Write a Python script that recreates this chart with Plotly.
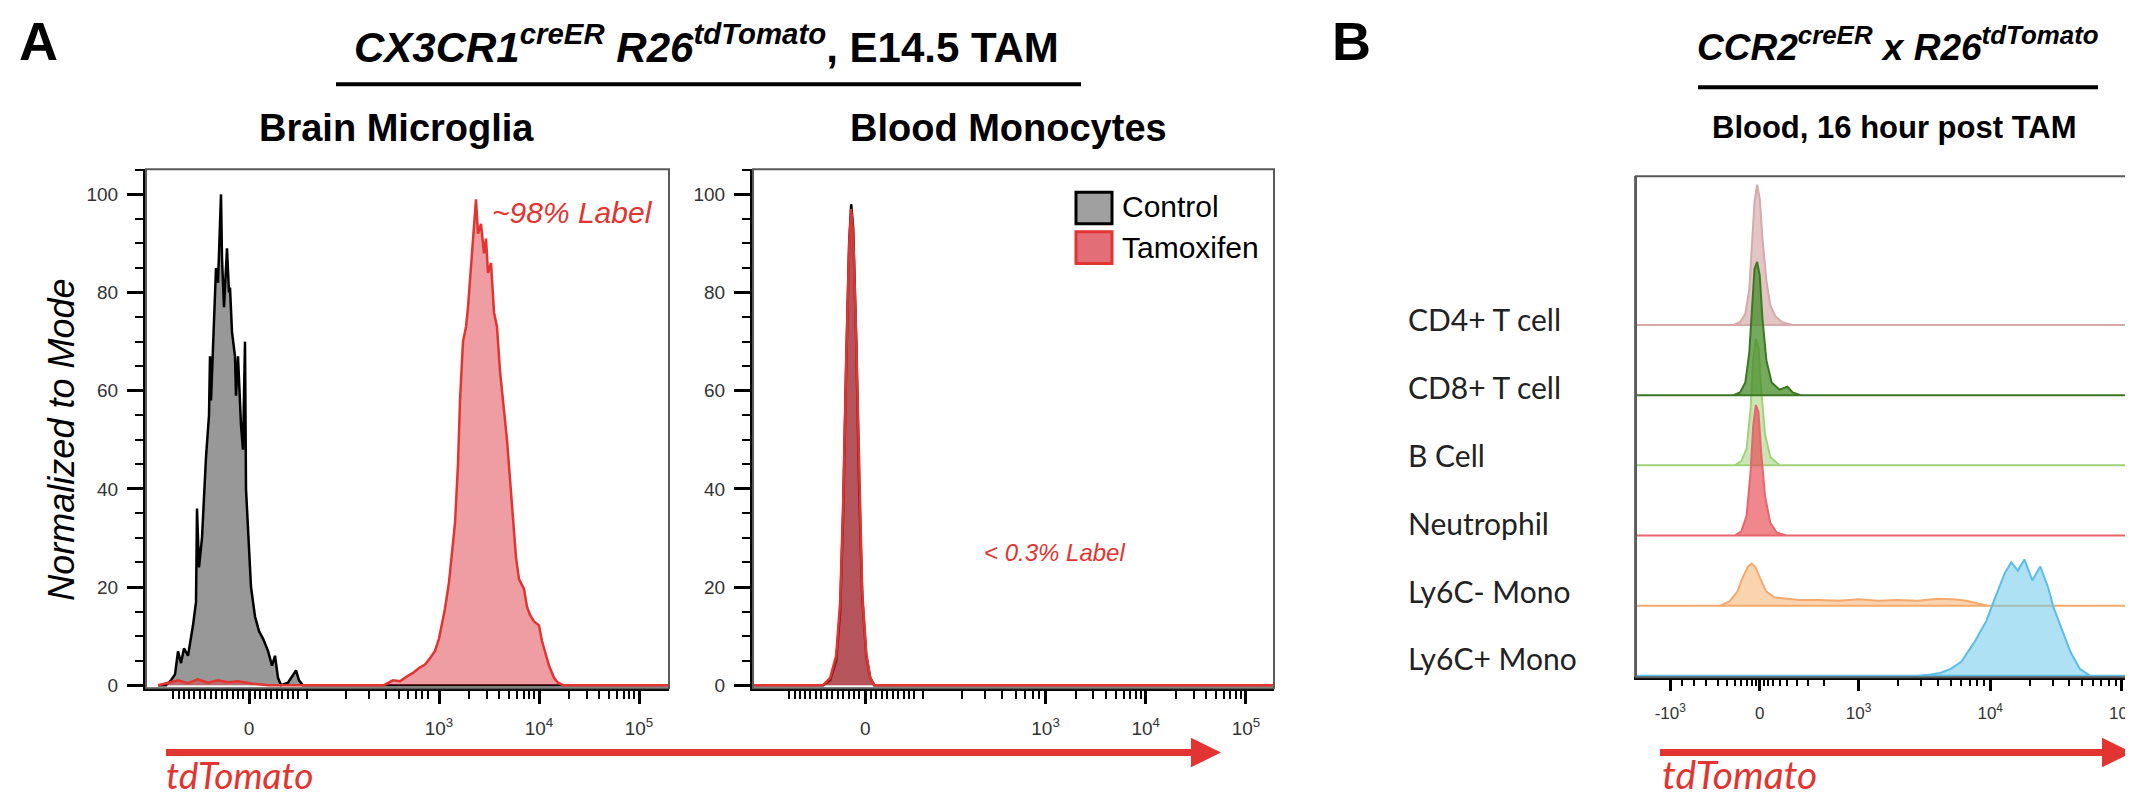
import math
import plotly.graph_objects as go

W, H = 2133, 801

# ---------------- DATA ----------------
# Panel A x positions are logicle display units (0 -> 1.1 / 1.2, 10^3 -> 3, 10^4 -> 4, 10^5 -> 5)
microglia_ctrl_x = [0.19, 0.27, 0.32, 0.36, 0.39, 0.42, 0.45, 0.49, 0.54, 0.57, 0.58, 0.60, 0.63, 0.67, 0.70,
                    0.71, 0.72, 0.75, 0.77, 0.79, 0.82, 0.83, 0.85, 0.88, 0.90, 0.91, 0.93, 0.96, 0.97, 0.99,
                    1.02, 1.04, 1.06, 1.07, 1.09, 1.12, 1.16, 1.20, 1.24, 1.29, 1.33, 1.36, 1.39, 1.42, 1.49,
                    1.54, 1.57, 1.60, 1.64, 5.30]
microglia_ctrl_y = [0, 0, 1.0, 2.2, 6.9, 4.5, 7.5, 6.0, 12.2, 16.9, 36, 24, 30, 46.5, 55,
                    67, 58, 75, 85, 82, 100, 87, 77, 89, 80, 81, 72, 67, 59, 67,
                    53, 48, 70, 40, 31, 20, 14, 11, 9.5, 7, 4, 6, 1.5, 0, 0.5,
                    2, 3, 1, 0, 0]

microglia_tam_x = [0.19, 0.29, 0.39, 0.49, 0.59, 0.69, 0.79, 0.89, 0.99, 1.14, 1.29, 2.39, 2.45, 2.54, 2.61,
                   2.68, 2.74, 2.80, 2.86, 2.91, 2.96, 3.00, 3.06, 3.10, 3.13, 3.16, 3.19, 3.21, 3.24, 3.27,
                   3.29, 3.32, 3.34, 3.37, 3.39, 3.42, 3.45, 3.47, 3.49, 3.52, 3.55, 3.58, 3.61, 3.64, 3.68,
                   3.71, 3.74, 3.77, 3.80, 3.85, 3.88, 3.91, 3.95, 4.00, 4.03, 4.06, 4.10, 4.15, 4.19, 4.24,
                   5.30]
microglia_tam_y = [0, 0.5, 1.0, 0.4, 1.2, 0.5, 1.0, 0.6, 0.8, 0.3, 0, 0, 0, 1.0, 0.8,
                   1.8, 2.5, 3.5, 4.2, 5.5, 7, 9.5, 15.6, 21, 27, 33, 45, 58, 70, 73,
                   77, 85, 91, 99, 92, 94, 88, 91, 84, 86, 76, 73, 64, 58, 50,
                   42, 33, 26, 21.6, 19.6, 16, 14.3, 13, 12.2, 9, 6.8, 4, 1.5, 0.5, 0,
                   0]

monocyte_ctrl_x = [0.08, 0.78, 0.85, 0.91, 0.95, 0.98, 1.01, 1.04, 1.06, 1.08, 1.11, 1.14, 1.17, 1.21, 1.25, 1.29, 5.28]
monocyte_ctrl_y = [0, 0, 1, 5, 15, 35, 65, 90, 98, 93, 70, 40, 18, 6, 1.5, 0, 0]
monocyte_tam_x = [0.08, 0.78, 0.85, 0.91, 0.95, 0.98, 1.01, 1.04, 1.06, 1.08, 1.11, 1.14, 1.17, 1.21, 1.25, 1.29, 5.28]
monocyte_tam_y = [0, 0, 1.5, 6, 17, 37, 66, 90, 97, 92, 71, 42, 19, 6.5, 1.5, 0, 0]

# Panel B: stacked histograms (display units: 0 -> 2.25, 10^3 -> 3, 10^4 -> 4, 10^5 -> 5)
b_rows = ["CD4+ T cell", "CD8+ T cell", "B Cell", "Neutrophil", "Ly6C- Mono", "Ly6C+ Mono"]
b_offsets = [250, 200, 150, 100, 50, 0]

cd4_x = [1.31, 2.05, 2.10, 2.14, 2.17, 2.19, 2.21, 2.23, 2.25, 2.27, 2.30, 2.33, 2.37, 2.42, 2.50, 5.13]
cd4_y = [0, 0, 2, 8, 25, 55, 88, 100, 90, 62, 32, 14, 6, 2, 0, 0]
cd8_x = [1.31, 2.05, 2.10, 2.14, 2.17, 2.19, 2.21, 2.23, 2.25, 2.27, 2.30, 2.34, 2.40, 2.46, 2.50, 2.56, 5.13]
cd8_y = [0, 0, 2, 9, 30, 62, 90, 95, 85, 55, 25, 9, 4, 6, 2, 0, 0]
bcell_x = [1.31, 2.06, 2.11, 2.15, 2.18, 2.20, 2.22, 2.24, 2.26, 2.29, 2.33, 2.40, 5.13]
bcell_y = [0, 0, 3, 12, 40, 75, 90, 84, 55, 22, 6, 0, 0]
neut_x = [1.31, 2.06, 2.11, 2.15, 2.18, 2.20, 2.22, 2.24, 2.26, 2.29, 2.33, 2.38, 2.45, 5.13]
neut_y = [0, 0, 3, 14, 45, 78, 93, 88, 60, 28, 9, 2, 0, 0]
ly6cneg_x = [1.31, 1.95, 2.02, 2.08, 2.12, 2.16, 2.19, 2.22, 2.26, 2.30, 2.36, 2.45, 2.55, 2.70, 2.85,
             3.00, 3.15, 3.30, 3.45, 3.60, 3.72, 3.82, 3.90, 3.98, 5.13]
ly6cneg_y = [0, 0, 3, 10, 20, 28, 30, 27, 18, 10, 6, 5, 4, 4, 3.5,
             4.5, 3.5, 4, 3.5, 5, 4.5, 3.5, 2, 0, 0]
ly6cpos_x = [1.31, 3.45, 3.55, 3.62, 3.70, 3.78, 3.88, 3.97, 4.03, 4.11, 4.16, 4.21, 4.26, 4.32, 4.38,
             4.44, 4.48, 4.54, 4.61, 4.68, 4.76, 5.13]
ly6cpos_y = [0, 0, 1, 2, 5, 10, 24, 39, 54, 73, 81, 75, 83, 68, 78,
             63, 49, 34, 17, 5, 0, 0]

# tick labels
a_tick_text = ["0", "10<sup>3</sup>", "10<sup>4</sup>", "10<sup>5</sup>"]
b_tick_text = ["-10<sup>3</sup>", "0", "10<sup>3</sup>", "10<sup>4</sup>", "10<sup>5</sup>"]
y_tick_vals = [0, 20, 40, 60, 80, 100]

# ---------------- helpers ----------------
def fx(px):
    return px / W

def fy(py):
    return 1 - py / H

def log_minors():
    out = []
    for d in (3, 4):
        for k in range(2, 10):
            out.append(d + math.log10(k))
    return out

ARIAL = "Liberation Sans, Arial, sans-serif"
CALI = "Lato, Open Sans, sans-serif"
RED = "rgb(226,52,48)"

fig = go.Figure()

fig.add_trace(go.Scatter(x=microglia_ctrl_x, y=microglia_ctrl_y, mode="lines", fill="tozeroy",
                         fillcolor="rgb(152,152,152)", line=dict(color="black", width=2.5),
                         xaxis="x", yaxis="y", showlegend=False))
fig.add_trace(go.Scatter(x=microglia_tam_x, y=microglia_tam_y, mode="lines", fill="tozeroy",
                         fillcolor="rgba(222,60,70,0.5)", line=dict(color=RED, width=2.5),
                         xaxis="x", yaxis="y", showlegend=False))
fig.add_trace(go.Scatter(x=monocyte_ctrl_x, y=monocyte_ctrl_y, mode="lines", fill="tozeroy",
                         fillcolor="rgb(152,152,152)", line=dict(color="black", width=2.5),
                         xaxis="x2", yaxis="y2", showlegend=False))
fig.add_trace(go.Scatter(x=monocyte_tam_x, y=monocyte_tam_y, mode="lines", fill="tozeroy",
                         fillcolor="rgba(200,40,50,0.6)", line=dict(color=RED, width=2.5),
                         xaxis="x2", yaxis="y2", showlegend=False))

b_data = [(cd4_x, cd4_y), (cd8_x, cd8_y), (bcell_x, bcell_y), (neut_x, neut_y),
          (ly6cneg_x, ly6cneg_y), (ly6cpos_x, ly6cpos_y)]
b_line = ["rgb(214,170,170)", "rgb(60,120,35)", "rgb(160,210,120)", "rgb(232,100,110)",
          "rgb(244,170,110)", "rgb(90,190,230)"]
b_fill = ["rgba(205,150,150,0.55)", "rgba(70,140,40,0.75)", "rgba(160,210,120,0.55)",
          "rgba(230,70,80,0.65)", "rgba(245,175,110,0.55)", "rgba(110,200,235,0.55)"]
draw_order = [2, 0, 1, 3, 4, 5]
for i in draw_order:
    xs, ys = b_data[i]
    off = b_offsets[i]
    px_ = list(xs) + [xs[-1], xs[0]]
    py_ = [v + off for v in ys] + [off, off]
    fig.add_trace(go.Scatter(x=px_, y=py_, mode="lines", fill="toself", fillcolor=b_fill[i],
                             line=dict(color=b_line[i], width=2), xaxis="x3", yaxis="y3",
                             showlegend=False))

a_near_zero = [-0.76, -0.70, -0.65, -0.60, -0.55, -0.49, -0.44, -0.38, -0.33, -0.27, -0.22, -0.16, -0.11,
               -0.06, 0.06, 0.11, 0.17, 0.22, 0.28, 0.33, 0.39, 0.44, 0.49, 0.58, 0.97, 1.20, 1.37, 1.50,
               1.59, 1.67, 1.73, 1.79]

def xaxis_A(domain, zero, rng):
    return dict(domain=domain, range=rng, showline=True, linecolor="black", linewidth=3,
                ticks="outside", ticklen=13, tickwidth=3, tickcolor="black",
                tickmode="array", tickvals=[zero, 3, 4, 5], ticktext=a_tick_text,
                tickfont=dict(family=ARIAL, size=19, color="#333"), ticklabelstandoff=8,
                minor=dict(tickmode="array", tickvals=[zero + o for o in a_near_zero] + log_minors(),
                           ticks="outside", ticklen=8, tickwidth=2, tickcolor="black"),
                showgrid=False, zeroline=False, fixedrange=True)

def yaxis_A(anchor):
    return dict(domain=[fy(687), fy(163)], range=[-0.6, 105.1], anchor=anchor,
                showline=True, linecolor="black", linewidth=3,
                ticks="outside", ticklen=16, tickwidth=3, tickcolor="black",
                tickmode="array", tickvals=y_tick_vals,
                tickfont=dict(family=ARIAL, size=19, color="#333"), ticklabelstandoff=5,
                minor=dict(dtick=5, ticks="outside", ticklen=8, tickwidth=2, tickcolor="black"),
                showgrid=False, zeroline=False, fixedrange=True)

b_near_zero = [1.66, 1.75, 1.84, 1.93, 2.00, 2.06, 2.11, 2.15, 2.19, 2.22, 2.28, 2.31, 2.35, 2.40, 2.46,
               2.53, 2.62, 2.74]

fig.update_layout(
    width=W, height=H, autosize=False,
    margin=dict(l=0, r=0, t=0, b=0),
    paper_bgcolor="white", plot_bgcolor="white",
    xaxis=xaxis_A([fx(138), fx(661)], 1.1, [0.07, 5.30]),
    yaxis=yaxis_A("x"),
    xaxis2=xaxis_A([fx(745), fx(1266)], 1.2, [0.08, 5.28]),
    yaxis2=yaxis_A("x2"),
    xaxis3=dict(domain=[fx(1628), fx(2131)], range=[1.31, 5.13], anchor="y3",
                showline=True, linecolor="black", linewidth=2.5,
                ticks="outside", ticklen=11, tickwidth=3, tickcolor="black",
                tickmode="array", tickvals=[1.57, 2.25, 3, 4, 5], ticktext=b_tick_text,
                tickfont=dict(family=ARIAL, size=17, color="#333"), ticklabelstandoff=8,
                minor=dict(tickmode="array", tickvals=b_near_zero + log_minors(),
                           ticks="outside", ticklen=6, tickwidth=2, tickcolor="black"),
                showgrid=False, zeroline=False, fixedrange=True),
    yaxis3=dict(domain=[fy(676), fy(170)], range=[-1, 356], anchor="x3",
                showline=True, linecolor="rgb(110,110,110)", linewidth=2,
                showticklabels=False, ticks="", showgrid=False, zeroline=False, fixedrange=True),
)

shapes = []
for xr, yr in (("x", "y"), ("x2", "y2"), ("x3", "y3")):
    shapes.append(dict(type="rect", xref=xr + " domain", yref=yr + " domain", x0=0, x1=1, y0=0, y1=1,
                       line=dict(color="rgb(90,90,90)", width=2), layer="above"))
shapes.append(dict(type="line", xref="paper", yref="paper", x0=fx(328), x1=fx(1073), y0=fy(77), y1=fy(77),
                   line=dict(color="black", width=4)))
shapes.append(dict(type="line", xref="paper", yref="paper", x0=fx(1690), x1=fx(2090), y0=fy(80), y1=fy(80),
                   line=dict(color="black", width=4)))

def arrow(x0, x1, y):
    shapes.append(dict(type="line", xref="paper", yref="paper", x0=fx(x0), x1=fx(x1 - 28), y0=fy(y), y1=fy(y),
                       line=dict(color=RED, width=7)))
    path = "M {a},{b} L {c},{d} L {a},{e} Z".format(a=fx(x1 - 30), b=fy(y - 15), c=fx(x1), d=fy(y), e=fy(y + 15))
    shapes.append(dict(type="path", xref="paper", yref="paper", path=path, fillcolor=RED, line=dict(width=0)))

arrow(158, 1213, 752)
arrow(1652, 2124, 752)
shapes.append(dict(type="rect", xref="paper", yref="paper", x0=fx(1068), x1=fx(1104), y0=fy(218), y1=fy(186),
                   fillcolor="rgb(160,160,160)", line=dict(color="black", width=3)))
shapes.append(dict(type="rect", xref="paper", yref="paper", x0=fx(1068), x1=fx(1104), y0=fy(258), y1=fy(226),
                   fillcolor="rgb(228,110,120)", line=dict(color=RED, width=3)))
fig.update_layout(shapes=shapes)

ann = []
def text(x, y, s, size, family=ARIAL, color="black", xanchor="center", angle=0, yanchor="middle"):
    ann.append(dict(x=fx(x), y=fy(y), xref="paper", yref="paper", text=s, showarrow=False,
                    font=dict(family=family, size=size, color=color), xanchor=xanchor, yanchor=yanchor,
                    textangle=angle))

text(30, 1, "<b>A</b>", 54, yanchor="top")
text(698, 36, "<b><i>CX3CR1<sup>creER</sup> R26<sup>tdTomato</sup></i>, E14.5 TAM</b>", 42)
text(388, 121, "<b>Brain Microglia</b>", 38)
text(1000, 121, "<b>Blood Monocytes</b>", 38)
text(54, 436, "<i>Normalized to Mode</i>", 36, angle=-90)
text(647, 207, "<i>~98% Label</i>", 30, color=RED, xanchor="right")
text(1046, 550, "<i>&lt; 0.3% Label</i>", 24, color=RED)
text(156, 799, "<i>tdTomato</i>", 37, family=CALI, color=RED, xanchor="left", yanchor="bottom")
text(1112, 201, "Control", 30, xanchor="left")
text(1112, 242, "Tamoxifen", 30, xanchor="left")
text(1343, 1, "<b>B</b>", 54, yanchor="top")
text(1890, 37, "<b><i>CCR2<sup>creER</sup> x R26<sup>tdTomato</sup></i></b>", 37)
text(1886, 121, "<b>Blood, 16 hour post TAM</b>", 31)
for lab, yy in zip(b_rows, [314, 383, 452, 520, 589, 657]):
    text(1398, yy, lab, 30, family=CALI, color="#222", xanchor="left")
text(1652, 799, "<i>tdTomato</i>", 39, family=CALI, color=RED, xanchor="left", yanchor="bottom")
fig.update_layout(annotations=ann)

fig.write_html("out.html")
